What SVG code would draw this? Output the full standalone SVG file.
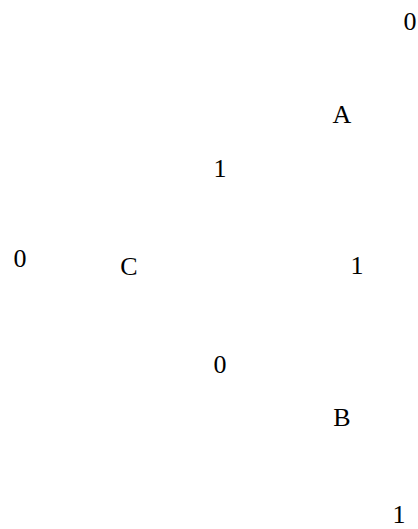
<svg xmlns="http://www.w3.org/2000/svg" width="418" height="529" viewBox="0 0 418 529">
<style>
text { font-family: "Liberation Serif", "Times New Roman", serif; font-size: 26px; fill: #000; text-anchor: middle; }
</style>
<rect width="418" height="529" fill="#fff"/>
<g id="connectors"></g>
<g id="node-A"><text x="342" y="123">A</text></g>
<g id="node-B"><text x="342" y="426">B</text></g>
<g id="node-C"><text x="129" y="275">C</text></g>
<g id="labels">
<text x="410" y="30">0</text>
<text x="220" y="177">1</text>
<text x="20" y="267">0</text>
<text x="357" y="274">1</text>
<text x="220" y="373">0</text>
<text x="399" y="523">1</text>
</g>
</svg>
